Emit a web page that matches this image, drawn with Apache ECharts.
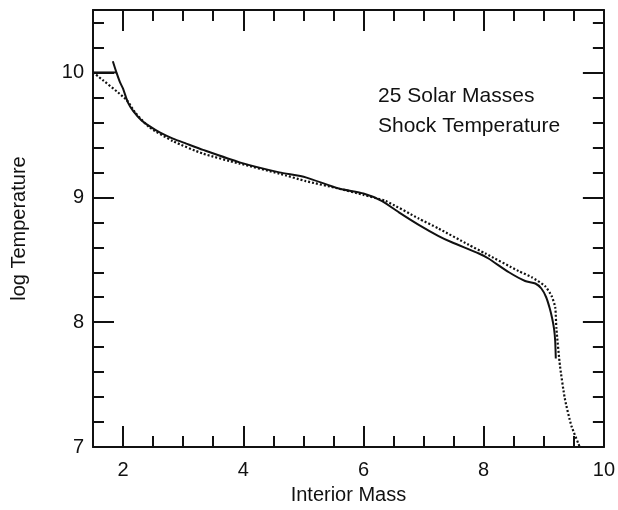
<!DOCTYPE html>
<html>
<head>
<meta charset="utf-8">
<script src="https://cdn.jsdelivr.net/npm/echarts@6/dist/echarts.min.js"></script>
<style>
  html, body { margin: 0; padding: 0; background: #fff; }
  #chart { width: 618px; height: 510px; }
</style>
</head>
<body>
<div id="chart"></div>
<script>
// Shock temperature profile of a 25 solar-mass star (log T vs interior mass)
const solidLeadMass = [1.5, 1.89];
const solidLeadLogT = [10.0, 10.0];

const solidMass = [1.83, 1.89, 1.95, 2.00, 2.08, 2.17, 2.30, 2.44, 2.61, 2.83, 3.05, 3.33, 3.94, 4.60, 5.04, 5.59, 6.00, 6.31, 6.59, 6.92, 7.25, 7.47, 7.92, 8.08, 8.42, 8.69, 8.86, 8.96, 9.04, 9.10, 9.14, 9.17, 9.19, 9.20];
const solidLogT = [10.09, 10.00, 9.92, 9.87, 9.76, 9.69, 9.62, 9.57, 9.52, 9.47, 9.43, 9.38, 9.28, 9.20, 9.16, 9.07, 9.03, 8.97, 8.88, 8.78, 8.69, 8.64, 8.55, 8.51, 8.40, 8.33, 8.31, 8.27, 8.20, 8.11, 8.03, 7.95, 7.85, 7.71];

const dottedMass = [1.50, 1.53, 2.06, 2.20, 2.44, 2.83, 3.33, 3.94, 4.60, 5.04, 5.59, 6.00, 6.37, 6.92, 7.25, 7.75, 8.03, 8.58, 8.80, 9.02, 9.13, 9.19, 9.21, 9.27, 9.35, 9.46, 9.60];
const dottedLogT = [10.00, 9.99, 9.78, 9.68, 9.56, 9.45, 9.35, 9.27, 9.19, 9.13, 9.07, 9.02, 8.97, 8.83, 8.75, 8.62, 8.55, 8.41, 8.36, 8.29, 8.21, 8.12, 7.95, 7.65, 7.39, 7.17, 7.00];

const xMajorTicks = [2, 4, 6, 8, 10];
const yMajorTicks = [7, 8, 9, 10];
const annotationLines = ['25 Solar Masses', 'Shock Temperature'];

const INK = '#111';
const FONT = '"Liberation Sans", Arial, Helvetica, sans-serif';
const FONT_SIZE = 20;

const pairs = (xs, ys) => xs.map((x, i) => [x, ys[i]]);

function xAxisDef(position, major, withLabels) {
  return {
    type: 'value', position: position, min: 1.5, max: 10,
    interval: major ? undefined : 0.5,
    axisLine: { show: !major, onZero: false, lineStyle: { color: INK, width: 2 } },
    axisTick: major
      ? { show: true, inside: true, length: 21, customValues: xMajorTicks, lineStyle: { color: INK, width: 2 } }
      : { show: true, inside: true, length: 11, lineStyle: { color: INK, width: 2 } },
    axisLabel: withLabels
      ? { show: true, customValues: xMajorTicks, color: INK, fontSize: FONT_SIZE, fontFamily: FONT, margin: 13 }
      : { show: false },
    splitLine: { show: false },
    name: withLabels ? 'Interior Mass' : '',
    nameLocation: 'middle', nameGap: 37,
    nameTextStyle: { color: INK, fontSize: FONT_SIZE, fontFamily: FONT }
  };
}

function yAxisDef(position, major, withLabels) {
  return {
    type: 'value', position: position, min: 7, max: 10.5,
    interval: major ? undefined : 0.2,
    axisLine: { show: !major, onZero: false, lineStyle: { color: INK, width: 2 } },
    axisTick: major
      ? { show: true, inside: true, length: 21, customValues: yMajorTicks, lineStyle: { color: INK, width: 2 } }
      : { show: true, inside: true, length: 11, lineStyle: { color: INK, width: 2 } },
    axisLabel: withLabels
      ? { show: true, customValues: yMajorTicks, color: INK, fontSize: FONT_SIZE, fontFamily: FONT, margin: 9 }
      : { show: false },
    splitLine: { show: false },
    name: withLabels ? 'log Temperature' : '',
    nameLocation: 'middle', nameGap: 64, nameRotate: 90,
    nameTextStyle: { color: INK, fontSize: FONT_SIZE, fontFamily: FONT }
  };
}

const chart = echarts.init(document.getElementById('chart'), null, { renderer: 'canvas' });
chart.setOption({
  animation: false,
  backgroundColor: '#fff',
  grid: { left: 93, right: 11, top: 10, bottom: 62, containLabel: false },
  xAxis: [
    xAxisDef('bottom', false, true),
    xAxisDef('bottom', true, false),
    xAxisDef('top', false, false),
    xAxisDef('top', true, false)
  ],
  yAxis: [
    yAxisDef('left', false, true),
    yAxisDef('left', true, false),
    yAxisDef('right', false, false),
    yAxisDef('right', true, false)
  ],
  graphic: annotationLines.map((t, i) => ({
    type: 'text', left: 378, top: 86 + i * 30, silent: true,
    style: { text: t, fill: INK, fontSize: 21, fontFamily: FONT }
  })),
  series: [
    {
      type: 'line', xAxisIndex: 0, yAxisIndex: 0, symbol: 'none',
      data: pairs(solidLeadMass, solidLeadLogT),
      lineStyle: { color: INK, width: 2 }
    },
    {
      type: 'line', xAxisIndex: 0, yAxisIndex: 0, symbol: 'none', smooth: 0.2,
      data: pairs(solidMass, solidLogT),
      lineStyle: { color: INK, width: 2 }
    },
    {
      type: 'line', xAxisIndex: 0, yAxisIndex: 0, symbol: 'none', smooth: 0.2,
      data: pairs(dottedMass, dottedLogT),
      lineStyle: { color: INK, width: 2.2, type: [2, 2] }
    }
  ]
});
</script>
</body>
</html>
